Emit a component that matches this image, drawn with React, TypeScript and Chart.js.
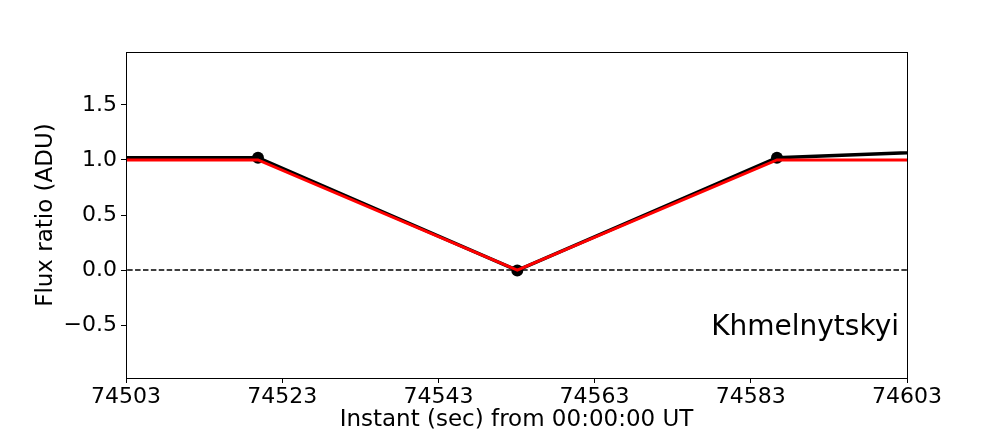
import React, { useEffect, useRef } from "react";
import { Chart, registerables } from "chart.js";

Chart.register(...registerables);

const times = [74486.7, 74519.9, 74553.1, 74586.35, 74619.6];
const blackValues = [1.02, 1.02, -0.003, 1.02, 1.11];
const redValues = [1.0, 1.0, 0.0, 1.0, 1.0];
const zeroLineX = [74490, 74615];
const zeroLineY = [0, 0];
const xTicks = [74503, 74523, 74543, 74563, 74583, 74603];
const yTicks = [-0.5, 0.0, 0.5, 1.0, 1.5];
const xRange = [74503, 74603];
const yRange = [-0.98, 1.98];
const stationName = "Khmelnytskyi";
const xTitle = "Instant (sec) from 00:00:00 UT";
const yTitle = "Flux ratio (ADU)";

const FONT = "'DejaVu Sans', sans-serif";

const framePlugin = {
  id: "frameAndText",
  afterDatasetsDraw(chart: any) {
    const { ctx, chartArea } = chart;
    ctx.save();
    ctx.strokeStyle = "#000";
    ctx.lineWidth = 1;
    ctx.strokeRect(
      Math.round(chartArea.left) + 0.5,
      Math.round(chartArea.top) + 0.5,
      Math.round(chartArea.right - chartArea.left),
      Math.round(chartArea.bottom - chartArea.top)
    );
    ctx.fillStyle = "#000";
    ctx.font = `28px ${FONT}`;
    ctx.textAlign = "right";
    ctx.textBaseline = "alphabetic";
    ctx.fillText(stationName, chartArea.right - 8, chartArea.bottom - 43);
    ctx.restore();
  },
};

export default function App() {
  const ref = useRef<HTMLCanvasElement | null>(null);
  useEffect(() => {
    document.body.style.margin = "0";
    const canvas = ref.current!;
    const chart = new Chart(canvas, {
      type: "line",
      data: {
        datasets: [
          {
            data: times.map((t, i) => ({ x: t, y: redValues[i] })),
            borderColor: "#ff0000",
            borderWidth: 3,
            pointRadius: 0,
            tension: 0,
            fill: false,
          },
          {
            data: times.map((t, i) => ({ x: t, y: blackValues[i] })),
            borderColor: "#000",
            backgroundColor: "#000",
            borderWidth: 3.4,
            pointRadius: 6,
            pointBorderWidth: 0,
            pointBackgroundColor: "#000",
            tension: 0,
            fill: false,
          },
          {
            data: zeroLineX.map((t, i) => ({ x: t, y: zeroLineY[i] })),
            borderColor: "#000",
            borderWidth: 1.4,
            borderDash: [5.5, 2.4],
            pointRadius: 0,
            fill: false,
          },
        ],
      },
      options: {
        responsive: false,
        animation: false,
        events: [],
        layout: { padding: { top: 52, right: 101, left: 0, bottom: 0 } },
        plugins: { legend: { display: false }, tooltip: { enabled: false } },
        scales: {
          x: {
            type: "linear",
            min: xRange[0],
            max: xRange[1],
            afterBuildTicks: (s: any) => {
              s.ticks = xTicks.map((v) => ({ value: v }));
            },
            afterFit: (s: any) => {
              s.height = 54;
            },
            ticks: {
              callback: (v: any) => String(v),
              color: "#000",
              font: { family: FONT, size: 22 },
              padding: 1,
              maxRotation: 0,
              autoSkip: false,
            },
            grid: {
              drawOnChartArea: false,
              drawTicks: true,
              tickLength: 5,
              color: "#000",
            },
            border: { display: false },
            title: {
              display: true,
              text: xTitle,
              color: "#000",
              font: { family: FONT, size: 23, lineHeight: 1 },
              padding: { top: 0, bottom: 0 },
            },
          },
          y: {
            type: "linear",
            min: yRange[0],
            max: yRange[1],
            afterBuildTicks: (s: any) => {
              s.ticks = yTicks.map((v) => ({ value: v }));
            },
            afterFit: (s: any) => {
              s.width = 126;
            },
            ticks: {
              callback: (v: any) => Number(v).toFixed(1).replace("-", "\u2212"),
              color: "#000",
              font: { family: FONT, size: 22 },
              padding: 4,
              autoSkip: false,
            },
            grid: {
              drawOnChartArea: false,
              drawTicks: true,
              tickLength: 5,
              color: "#000",
            },
            border: { display: false },
            title: {
              display: true,
              text: yTitle,
              color: "#000",
              font: { family: FONT, size: 23, lineHeight: 1.2 },
              padding: { top: 32, bottom: 0 },
            },
          },
        },
      },
      plugins: [framePlugin],
    });
    return () => chart.destroy();
  }, []);
  return (
    <div style={{ width: 1008, height: 432 }}>
      <canvas ref={ref} width={1008} height={432} style={{ display: "block" }} />
    </div>
  );
}
